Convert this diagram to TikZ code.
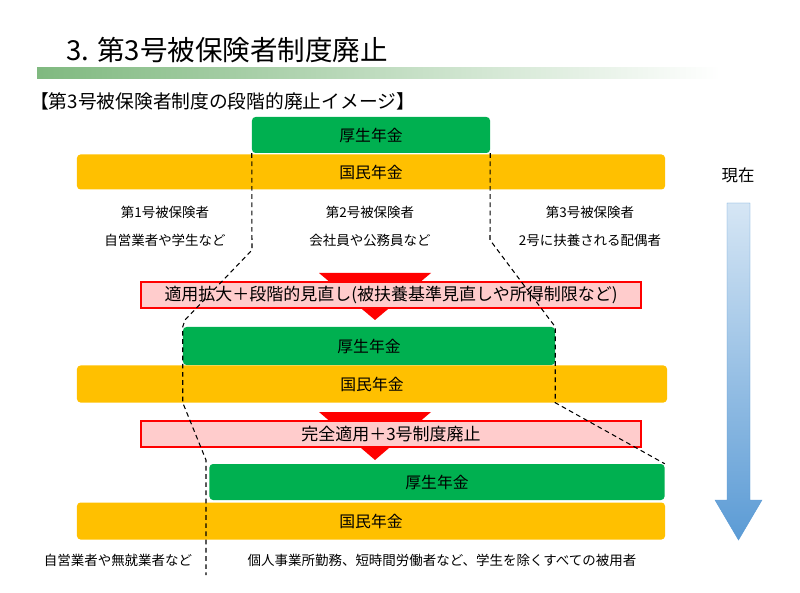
\documentclass[tikz,border=0pt]{standalone}
\usepackage{fontspec}
\setmainfont{Noto Sans CJK JP}
\usetikzlibrary{shapes.geometric}
\definecolor{kosei}{HTML}{00B050}
\definecolor{kokumin}{HTML}{FFC000}
\definecolor{stepfill}{HTML}{FFCCCC}
\definecolor{nowblue}{HTML}{5B9BD5}
\begin{document}
\begin{tikzpicture}[x=0.03cm, y=-0.03cm,
  kbox/.style = {fill=kosei, rounded corners=3pt, inner sep=0pt, font=\fontsize{13.5pt}{13.5pt}\selectfont},
  nbox/.style = {fill=kokumin, rounded corners=3pt, inner sep=0pt, font=\fontsize{13.5pt}{13.5pt}\selectfont},
  stepbox/.style = {draw=red, line width=1.5pt, fill=stepfill, minimum width=15cm, minimum height=0.8cm, inner sep=0pt, font=\fontsize{14.5pt}{14.5pt}\selectfont},
  down/.style = {fill=red},
  lbl/.style = {font=\fontsize{11.5pt}{11.5pt}\selectfont},
  edge/.style = {dash pattern=on 4pt off 3pt, line width=0.9pt}]
  \useasboundingbox (0,0) rectangle (800,593);
  \node[anchor=west, font=\fontsize{23.5pt}{23.5pt}\selectfont] (title) at (62,50) {3. 第3号被保険者制度廃止};
  \shade[left color=green!45!black!50, right color=white] (37,68) rectangle (720,79);
  \node[anchor=west, font=\fontsize{16pt}{16pt}\selectfont] (sub) at (26,101) {【第3号被保険者制度の段階的廃止イメージ】};

  % 現在
  \node[kbox, minimum width=7.14cm, minimum height=1.08cm] (k1) at (371,135) {厚生年金};
  \node[nbox, minimum width=17.64cm, minimum height=1.05cm] (n1) at (371,172) {国民年金};
  \node[lbl] (t1) at (165,212) {第1号被保険者};
  \node[lbl] (u1) at (165,240) {自営業者や学生など};
  \node[lbl] (t2) at (370,212) {第2号被保険者};
  \node[lbl] (u2) at (370,240) {会社員や公務員など};
  \node[lbl] (t3) at (590,212) {第3号被保険者};
  \node[lbl] (u3) at (590,240) {2号に扶養される配偶者};

  % 第1段階
  \fill[down] (319,273) -- (431,273) -- (375,320) -- cycle;
  \node[stepbox] (s1) at (391,295) {適用拡大＋段階的見直し(被扶養基準見直しや所得制限など)};
  \node[kbox, minimum width=11.16cm, minimum height=1.14cm] (k2) at (369,346) {厚生年金};
  \node[nbox, minimum width=17.7cm, minimum height=1.11cm] (n2) at (372,384) {国民年金};

  % 第2段階
  \fill[down] (319,412) -- (431,412) -- (375,460) -- cycle;
  \node[stepbox] (s2) at (391,434) {完全適用＋3号制度廃止};
  \node[kbox, minimum width=13.65cm, minimum height=1.08cm] (k3) at (437,482) {厚生年金};
  \node[nbox, minimum width=17.64cm, minimum height=1.11cm] (n3) at (371,521) {国民年金};
  \node[lbl] (b1) at (118,560) {自営業者や無就業者など};
  \node[lbl] (b2) at (442,560) {個人事業所勤務、短時間労働者など、学生を除くすべての被用者};

  % 境界
  \draw[edge] (k1.south west) -- (252,250) -- (185,320) -- (k2.north west) -- (k2.south west |- n2.south) -- (206,460) -- (206,575);
  \draw[edge] (k1.south east) -- (490,240) -- (550,320) -- (k2.north east) -- (k2.south east |- n2.south) -- (k3.north east);

  % 時間の矢印
  \node[font=\fontsize{14pt}{14pt}\selectfont] (now) at (738,175) {現在};
  \shade[top color=nowblue!25, bottom color=nowblue, draw=nowblue]
    (727,203) -- (750,203) -- (750,500) -- (762,500) -- (738.5,540) -- (715,500) -- (727,500) -- cycle;
\end{tikzpicture}
\end{document}
